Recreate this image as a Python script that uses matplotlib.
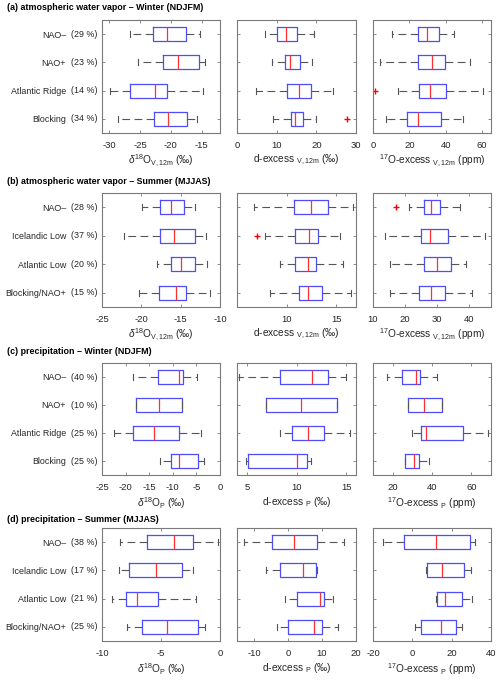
import matplotlib
matplotlib.use("Agg")
import matplotlib.pyplot as plt

plt.rcParams['font.family'] = ['Liberation Sans', 'DejaVu Sans']
plt.rcParams['mathtext.fontset'] = 'custom'
plt.rcParams['mathtext.rm'] = 'Liberation Sans'
plt.rcParams['mathtext.it'] = 'Liberation Sans:italic'
plt.rcParams['axes.unicode_minus'] = False

# ---------- data: [whisker low, q1, median, q3, whisker high] ----------
names_winter = ["NAO\u2013", "NAO+", "Atlantic Ridge", "Blocking"]
names_summer = ["NAO\u2013", "Icelandic Low", "Atlantic Low", "Blocking/NAO+"]

pct_a = [29, 23, 14, 34]
pct_b = [28, 37, 20, 15]
pct_c = [40, 10, 25, 25]
pct_d = [38, 17, 21, 25]

a_d18o = [[-26.6, -22.9, -20.6, -17.6, -15.2],
          [-25.3, -21.3, -18.8, -15.4, -14.4],
          [-29.9, -26.6, -22.5, -20.6, -14.7],
          [-28.6, -22.7, -20.5, -17.4, -15.8]]
a_dex = [[7.0, 10.2, 12.3, 15.2, 19.3],
         [8.9, 12.0, 13.3, 15.8, 19.0],
         [4.8, 12.6, 15.7, 18.7, 24.3],
         [9.1, 13.7, 14.7, 16.6, 20.0]]
a_o17 = [[10.5, 24.7, 29.9, 36.5, 44.6],
         [4.1, 24.7, 32.3, 39.7, 53.5],
         [14.0, 25.5, 31.5, 40.0, 60.7],
         [7.4, 18.8, 24.9, 37.3, 49.4]]
a_dex_fliers = [[], [], [], [27.8]]
a_o17_fliers = [[], [], [1.3], []]

b_d18o = [[-19.9, -17.6, -16.2, -14.6, -13.2],
          [-22.2, -17.6, -15.9, -13.2, -11.8],
          [-18.0, -16.2, -14.9, -13.2, -11.6],
          [-20.3, -17.7, -15.6, -14.3, -11.3]]
b_dex = [[6.7, 10.7, 12.5, 14.2, 16.7],
         [7.8, 10.8, 12.3, 13.2, 15.4],
         [9.3, 10.8, 12.2, 13.0, 15.7],
         [8.3, 11.3, 12.2, 13.6, 16.5]]
b_o17 = [[21.2, 26.1, 28.2, 31.0, 37.2],
         [13.7, 24.9, 28.0, 33.6, 45.1],
         [15.4, 26.1, 30.0, 34.5, 39.3],
         [15.4, 24.5, 28.2, 32.5, 41.1]]
b_dex_fliers = [[], [7.05], [], []]
b_o17_fliers = [[17.3], [], [], []]

c_d18o = [[-18.4, -13.2, -8.6, -7.8, -4.8],
          [-17.9, -17.9, -13.0, -8.0, -8.0],
          [-22.4, -18.5, -14.0, -8.7, -4.1],
          [-12.7, -10.4, -8.6, -4.6, -3.4]]
c_dex = [[4.2, 8.3, 11.6, 13.2, 15.0],
         [6.9, 6.9, 10.5, 14.1, 14.1],
         [8.3, 9.5, 11.2, 12.8, 15.4],
         [4.9, 5.1, 10.0, 11.1, 11.5]]
c_o17 = [[17.1, 24.8, 32.0, 33.7, 42.5],
         [27.7, 27.7, 36.1, 44.9, 44.9],
         [29.8, 34.6, 37.0, 55.7, 68.5],
         [26.2, 26.2, 31.0, 33.4, 38.7]]

d_d18o = [[-8.5, -6.2, -3.9, -2.3, -0.15],
          [-8.6, -7.7, -5.4, -3.2, -2.3],
          [-9.15, -8.0, -7.0, -5.25, -2.0],
          [-7.85, -6.6, -4.45, -1.9, -1.3]]
d_dex = [[-13.0, -4.6, 1.8, 8.6, 16.6],
         [-6.4, -2.4, 4.5, 8.1, 8.4],
         [-1.0, 2.6, 9.4, 10.6, 13.2],
         [-3.2, 0.0, 7.6, 10.0, 14.8]]
d_o17 = [[-15.1, -4.2, 11.9, 29.3, 31.9],
         [6.8, 7.3, 15.3, 26.4, 29.8],
         [11.9, 12.4, 16.6, 25.4, 30.5],
         [1.4, 4.6, 14.4, 22.0, 25.4]]

titles = ["(a) atmospheric water vapor \u2013 Winter (NDJFM)",
          "(b) atmospheric water vapor \u2013 Summer (MJJAS)",
          "(c) precipitation \u2013 Winter (NDJFM)",
          "(d) precipitation \u2013 Summer (MJJAS)"]

lab_v = [r"$\delta^{18}$O$_{\rm V,12m}$ (‰)", r"d-excess $_{\rm V,12m}$ (‰)",
         r"$^{17}$O-excess $_{\rm V,12m}$ (ppm)"]
lab_p = [r"$\delta^{18}$O$_{\rm P}$ (‰)", r"d-excess $_{\rm P}$ (‰)",
         r"$^{17}$O-excess $_{\rm P}$ (ppm)"]

rows = [
    (names_winter, pct_a, [a_d18o, a_dex, a_o17], [None, a_dex_fliers, a_o17_fliers], lab_v,
     [(-31.2, -12), (0, 30), (0, 65)], [[-30, -25, -20, -15], [0, 10, 20, 30], [0, 20, 40, 60]]),
    (names_summer, pct_b, [b_d18o, b_dex, b_o17], [None, b_dex_fliers, b_o17_fliers], lab_v,
     [(-25, -10), (5, 17), (10, 47)], [[-25, -20, -15, -10], [10, 15], [10, 20, 30, 40]]),
    (names_winter, pct_c, [c_d18o, c_dex, c_o17], [None, None, None], lab_p,
     [(-25, 0), (4, 16), (10, 70)], [[-25, -20, -15, -10, -5, 0], [5, 10, 15], [20, 40, 60]]),
    (names_summer, pct_d, [d_d18o, d_dex, d_o17], [None, None, None], lab_p,
     [(-10, 0), (-15, 20), (-20, 40)], [[-10, -5, 0], [-10, 0, 10, 20], [-20, 0, 20, 40]]),
]

fig = plt.figure(figsize=(5, 6.8), dpi=100)

W, H = 500.0, 680.0
col_x = [102, 237, 373]
col_w = [118, 119, 118]
row_y = [(20, 133), (193, 307), (363, 475), (528, 641)]
title_y = [8, 182, 351, 519]

box_c = '#4d4dff'
med_c = '#ff3030'
wh_c = '#555555'
frame_c = '#7a7a7a'
txt_c = '#262626'

for r, (names, pct, panels, fliers, labels, lims, ticks) in enumerate(rows):
    fig.text(7 / W, 1 - title_y[r] / H, titles[r], fontsize=6.4, fontweight='bold',
             va='center', ha='left')
    top, bot = row_y[r]
    for c in range(3):
        ax = fig.add_axes([col_x[c] / W, 1 - bot / H, col_w[c] / W, (bot - top) / H])
        stats = []
        for i, s in enumerate(panels[c]):
            fl = fliers[c][i] if fliers[c] is not None else []
            stats.append(dict(whislo=s[0], q1=s[1], med=s[2], q3=s[3], whishi=s[4], fliers=fl))
        ax.bxp(stats, positions=[1, 2, 3, 4], vert=False, widths=0.5, capwidths=0.22,
               boxprops=dict(color=box_c, linewidth=0.9),
               medianprops=dict(color=med_c, linewidth=0.9),
               whiskerprops=dict(color=wh_c, linewidth=0.8, linestyle=(0, (7, 4))),
               capprops=dict(color=wh_c, linewidth=0.8),
               flierprops=dict(marker='+', markeredgecolor='red', markersize=5, linestyle='none'))
        ax.set_ylim(4.5, 0.5)
        ax.set_xlim(*lims[c])
        ax.set_xticks(ticks[c])
        ax.set_xticklabels([str(t) for t in ticks[c]])
        ax.set_xlabel(labels[c], fontsize=7.3, labelpad=2, color=txt_c)
        for sp in ax.spines.values():
            sp.set_color(frame_c)
            sp.set_linewidth(0.8)
        ax.tick_params(axis='both', direction='in', length=2.5, width=0.6, color=frame_c,
                       labelsize=6.8, labelcolor=txt_c, top=True, right=True, pad=3)
        ax.tick_params(axis='x', pad=6)
        ax.set_yticks([1, 2, 3, 4])
        if c == 0:
            ax.set_yticklabels(names)
            ax.tick_params(axis='y', pad=26, labelsize=6.4)
            for i, p in enumerate(pct):
                ax.annotate(f"({p} %)", xy=(0, i + 1), xycoords=('axes fraction', 'data'),
                            xytext=(-3.5, 0), textcoords='offset points',
                            ha='right', va='center', fontsize=6.4, color=txt_c)
        else:
            ax.set_yticklabels([])

fig.savefig("out.png", dpi=100)
